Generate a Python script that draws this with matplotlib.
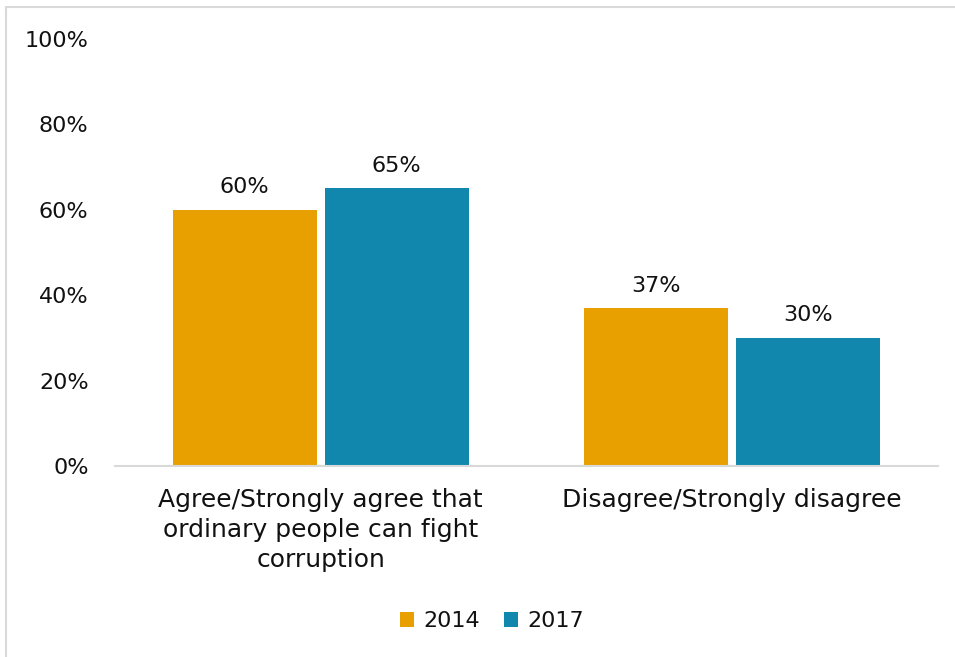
import numpy as np
import matplotlib.pyplot as plt
from matplotlib.patches import Rectangle

categories = ['Agree/Strongly agree that\nordinary people can fight\ncorruption',
              'Disagree/Strongly disagree']
years = ['2014', '2017']
values_2014 = [60, 37]
values_2017 = [65, 30]
y_ticks = [0, 20, 40, 60, 80, 100]

orange = '#E8A000'
teal = '#1187AD'

plt.rcParams['font.family'] = ['DejaVu Sans']
num_size = 16
cat_size = 18

fig = plt.figure(figsize=(9.55, 6.57), dpi=100)
ax = fig.add_axes([0.1204, 0.2907, 0.8616, 0.6499])

x = np.arange(len(categories))
bar_width = 0.35
offset = 0.185
bars_2014 = ax.bar(x - offset, values_2014, bar_width, color=orange, label=years[0])
bars_2017 = ax.bar(x + offset, values_2017, bar_width, color=teal, label=years[1])

# value labels above each bar
for bars, vals in ((bars_2014, values_2014), (bars_2017, values_2017)):
    for b, v in zip(bars, vals):
        ax.annotate(f'{v}%', (b.get_x() + b.get_width() / 2, v),
                    xytext=(0, 9), textcoords='offset points',
                    ha='center', va='bottom', fontsize=num_size, color='#111111')

ax.set_xlim(-0.5, 1.5)
ax.set_ylim(0, 100)
ax.set_yticks(y_ticks)
ax.set_yticklabels([f'{t}%' for t in y_ticks], fontsize=num_size, color='#111111')
ax.set_xticks(x)
ax.set_xticklabels(categories, fontsize=cat_size, color='#111111', linespacing=1.32)
ax.tick_params(axis='both', length=0)
ax.tick_params(axis='y', pad=19)
ax.tick_params(axis='x', pad=16)

for side in ('top', 'right', 'left'):
    ax.spines[side].set_visible(False)
ax.spines['bottom'].set_color('#D9D9D9')
ax.spines['bottom'].set_linewidth(1.5)

fig.legend(handles=[bars_2014, bars_2017], labels=years, loc='center',
           bbox_to_anchor=(0.515, 1 - 621 / 657), ncol=2, frameon=False,
           fontsize=num_size, handlelength=0.65, handleheight=0.65,
           handletextpad=0.4, columnspacing=1.1, labelcolor='#111111')

# outer chart frame
fig.add_artist(Rectangle((6 / 955, -0.1), 1.2, 1 - 7 / 657 + 0.1,
                         transform=fig.transFigure, fill=False,
                         edgecolor='#D9D9D9', linewidth=1.5))

fig.savefig('out.png', dpi=100)
